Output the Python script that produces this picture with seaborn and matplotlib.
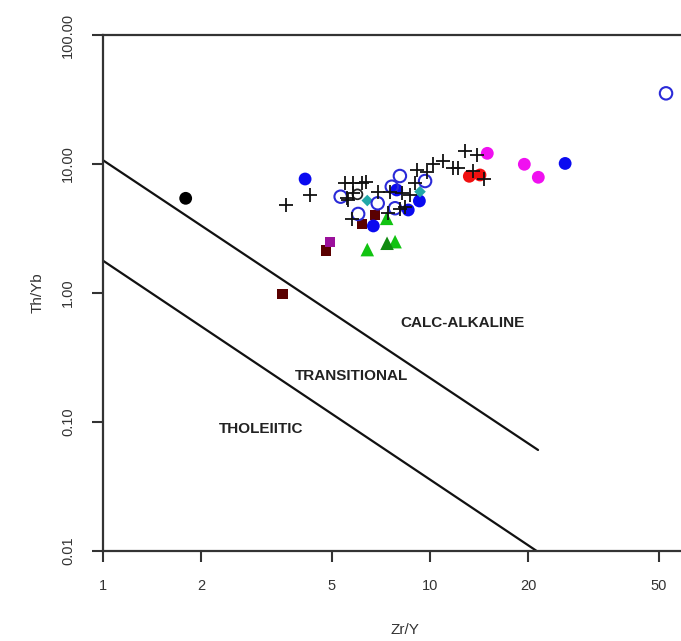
import numpy as np
import pandas as pd
import matplotlib
matplotlib.use("Agg")
import matplotlib.pyplot as plt
import seaborn as sns

# ---------------- data ----------------
plus_x = [3.64, 4.31, 5.50, 5.83, 6.19, 6.37, 5.56, 5.61, 5.81, 5.77, 6.95, 7.55,
          8.21, 8.69, 8.09, 7.46, 8.39, 9.00, 9.13, 9.77, 10.23, 10.96, 11.78,
          12.21, 12.79, 13.92, 13.49, 14.63]
plus_y = [4.81, 5.70, 7.09, 7.16, 7.12, 7.31, 5.42, 5.26, 5.96, 3.75, 6.10, 6.10,
          5.93, 5.75, 4.45, 4.15, 4.67, 7.12, 8.91, 8.71, 10.00, 10.55, 9.26,
          9.26, 12.61, 11.64, 8.83, 7.65]

blue_x = [4.15, 7.91, 6.71, 8.58, 9.28, 25.9]
blue_y = [7.65, 6.29, 3.31, 4.40, 5.17, 10.1]

open_x = [5.33, 6.03, 6.92, 7.64, 8.09, 7.82, 9.66, 52.7]
open_y = [5.58, 4.10, 4.96, 6.67, 8.07, 4.54, 7.38, 35.3]

openblack_x = [6.0]
openblack_y = [5.82]

teal_x = [6.43, 9.32]
teal_y = [5.21, 6.10]

red_x = [13.19, 14.22]
red_y = [8.03, 8.22]

magenta_x = [14.97, 19.43, 21.44]
magenta_y = [12.1, 9.95, 7.89]

black_x = [1.79]
black_y = [5.42]

maroon_x = [3.54, 4.81, 6.18, 6.79]
maroon_y = [0.982, 2.13, 3.43, 4.02]

purple_x = [4.94]
purple_y = [2.50]

green_x = [6.43, 7.37, 7.82]
green_y = [2.17, 3.79, 2.50]

dkgreen_x = [7.39]
dkgreen_y = [2.43]

# field boundaries (end points)
upper_x = [1.0, 21.4]
upper_y = [10.7, 0.0607]
lower_x = [1.0, 21.2]
lower_y = [1.78, 0.01]

field_labels = ["CALC-ALKALINE", "TRANSITIONAL", "THOLEIITIC"]
field_x = [12.6, 5.77, 3.04]
field_y = [0.585, 0.227, 0.088]

xticks = [1, 2, 5, 10, 20, 50]
xticklabels = ["1", "2", "5", "10", "20", "50"]
yticks = [0.01, 0.1, 1, 10, 100]
yticklabels = ["0.01", "0.10", "1.00", "10.00", "100.00"]

# ---------------- figure ----------------
sns.set_theme(style="white")
plt.rcParams["font.family"] = ["Liberation Sans", "DejaVu Sans"]

W, H = 681, 641
fig = plt.figure(figsize=(W / 100, H / 100), dpi=100)
xmax = 70.0
ax_w_px = 327 * np.log10(xmax)
ax = fig.add_axes([103 / W, (H - 551) / H, ax_w_px / W, 516 / H])
ax.set_xscale("log")
ax.set_yscale("log")
ax.set_xlim(1, xmax)
ax.set_ylim(0.01, 100)

for bx, by in [(upper_x, upper_y), (lower_x, lower_y)]:
    sns.lineplot(x=bx, y=by, ax=ax, color="#111111", linewidth=1.6,
                 sort=False, estimator=None, legend=False)

def pts(x, y, **kw):
    df = pd.DataFrame({"x": x, "y": y})
    sns.scatterplot(data=df, x="x", y="y", ax=ax, legend=False, **kw)

pts(maroon_x, maroon_y, marker="s", s=55, color="#5a0000", edgecolor="none", zorder=3)
pts(purple_x, purple_y, marker="s", s=55, color="#9b109b", edgecolor="none", zorder=3)
pts(green_x, green_y, marker="^", s=95, color="#11c311", edgecolor="none", zorder=3)
pts(dkgreen_x, dkgreen_y, marker="^", s=95, color="#118a11", edgecolor="none", zorder=3)
pts(blue_x, blue_y, marker="o", s=85, color="#0a0af0", edgecolor="none", zorder=3)
pts(red_x, red_y, marker="o", s=85, color="#f01010", edgecolor="none", zorder=3)
pts(magenta_x, magenta_y, marker="o", s=85, color="#f010f0", edgecolor="none", zorder=3)
pts(black_x, black_y, marker="o", s=85, color="#000000", edgecolor="none", zorder=3)
pts(teal_x, teal_y, marker="D", s=35, color="#22a8a8", edgecolor="none", zorder=3)
pts(open_x, open_y, marker="o", s=80, facecolor="none", edgecolor="#2a2ad8",
    linewidth=1.5, zorder=4)
pts(openblack_x, openblack_y, marker="o", s=50, facecolor="none", edgecolor="#222222",
    linewidth=1.3, zorder=4)
pts(plus_x, plus_y, marker="+", s=100, color="#111111", linewidth=1.3, zorder=5)

for lab, lx, ly in zip(field_labels, field_x, field_y):
    ax.text(lx, ly, lab, ha="center", va="center", fontsize=11,
            fontweight="bold", color="#222222")

ax.minorticks_off()
ax.set_xticks(xticks)
ax.set_xticklabels(xticklabels)
ax.set_yticks(yticks)
ax.set_yticklabels(yticklabels, rotation=90, va="center")
ax.tick_params(axis="both", which="major", direction="out", length=8, width=1.5,
               color="#333333", labelsize=10.5, labelcolor="#333333", pad=12,
               bottom=True, left=True)
for side in ["left", "bottom", "top", "right"]:
    ax.spines[side].set_visible(True)
    ax.spines[side].set_color("#333333")
    ax.spines[side].set_linewidth(1.6)

ax.set_xlabel("Zr/Y", fontsize=11, color="#333333", labelpad=22)
ax.set_ylabel("Th/Yb", fontsize=11, color="#333333", labelpad=12)

fig.savefig("out.png", dpi=100)
